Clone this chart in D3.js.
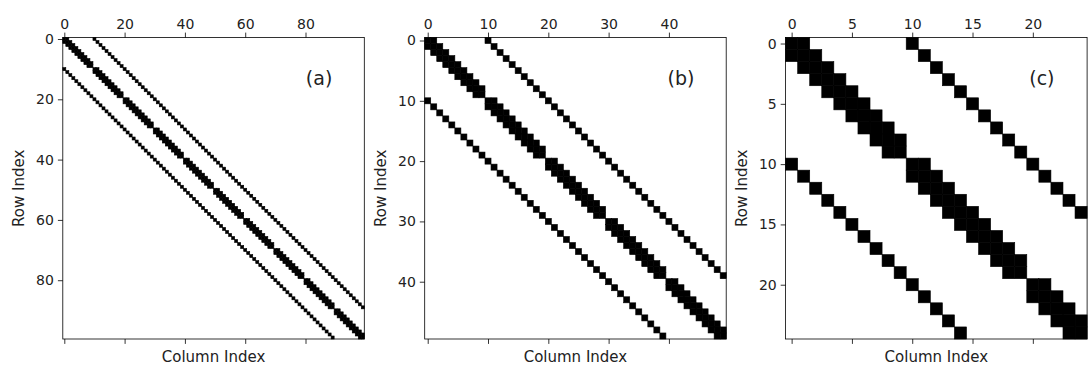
<!DOCTYPE html>
<html>
<head>
<meta charset="utf-8">
<script src="https://cdn.jsdelivr.net/npm/d3@7"></script>
<style>
  body { margin: 0; background: #fff; }
  svg { display: block; font-family: "DejaVu Sans", sans-serif; }
</style>
</head>
<body>
<svg width="1088" height="371"></svg>
<script>
// matrix sizes of each panel and the sparsity structure (5-point stencil, grid width 10)
var matrixSizes = [100, 50, 25];
var gridWidth = 10;
var bandOffsets = [-10, -1, 0, 1, 10];
var panelLabels = ["(a)", "(b)", "(c)"];
var tickValues = [
  [0, 20, 40, 60, 80],
  [0, 10, 20, 30, 40],
  [0, 5, 10, 15, 20]
];
var xLabel = "Column Index", yLabel = "Row Index";

var svg = d3.select("svg"),
    panelLeft = [62.8, 424.7, 785.6],
    marginTop = 37.5,
    size = 301.5;

// lista de entradas no nulas
function nonZeros(n) {
  var out = [];
  for (var i = 0; i < n; i++) {
    bandOffsets.forEach(function(k) {
      var j = i + k;
      if (j < 0 || j >= n) return;
      if (Math.abs(k) === 1 && Math.floor(i / gridWidth) !== Math.floor(j / gridWidth)) return;
      out.push({row: i, col: j});
    });
  }
  return out;
}

matrixSizes.forEach(function(n, p) {
  var g = svg.append("g").attr("transform", "translate(" + panelLeft[p] + "," + marginTop + ")");

  var x = d3.scaleLinear().domain([-0.5, n - 0.5]).range([0, size]);
  var y = d3.scaleLinear().domain([-0.5, n - 0.5]).range([0, size]);
  var cell = x(1) - x(0);

  g.append("g")
    .attr("stroke", "#000")
    .attr("stroke-width", 0.6)
    .selectAll("rect")
    .data(nonZeros(n))
    .enter().append("rect")
      .attr("x", function(d) { return x(d.col - 0.5); })
      .attr("y", function(d) { return y(d.row - 0.5); })
      .attr("width", cell)
      .attr("height", cell)
      .attr("fill", "#000");

  // ejes
  var axTop = g.append("g")
    .call(d3.axisTop(x).tickValues(tickValues[p]).tickSize(4.9).tickPadding(4));
  var axBottom = g.append("g")
    .attr("transform", "translate(0," + size + ")")
    .call(d3.axisBottom(x).tickValues(tickValues[p]).tickSize(4.9).tickFormat(""));
  var axLeft = g.append("g")
    .call(d3.axisLeft(y).tickValues(tickValues[p]).tickSize(4.9).tickPadding(4));

  [axTop, axBottom, axLeft].forEach(function(a) {
    a.select(".domain").remove();
    a.selectAll("line").attr("stroke", "#000").attr("stroke-width", 0.8);
    a.selectAll("text").attr("font-size", 14).attr("fill", "#222")
      .attr("font-family", "DejaVu Sans, sans-serif");
  });

  g.append("rect")
    .attr("width", size)
    .attr("height", size)
    .attr("fill", "none")
    .attr("stroke", "#000")
    .attr("stroke-width", 0.8);

  g.append("text")
    .attr("x", size * 0.85)
    .attr("y", 47.3)
    .attr("text-anchor", "middle")
    .attr("font-size", 19)
    .attr("fill", "#222")
    .text(panelLabels[p]);

  g.append("text")
    .attr("x", size / 2)
    .attr("y", 324.5)
    .attr("text-anchor", "middle")
    .attr("font-size", 15)
    .attr("fill", "#222")
    .text(xLabel);

  g.append("text")
    .attr("transform", "translate(" + (24 - panelLeft[0]) + "," + (size / 2) + ") rotate(-90)")
    .attr("text-anchor", "middle")
    .attr("font-size", 15)
    .attr("fill", "#222")
    .text(yLabel);
});
</script>
</body>
</html>
